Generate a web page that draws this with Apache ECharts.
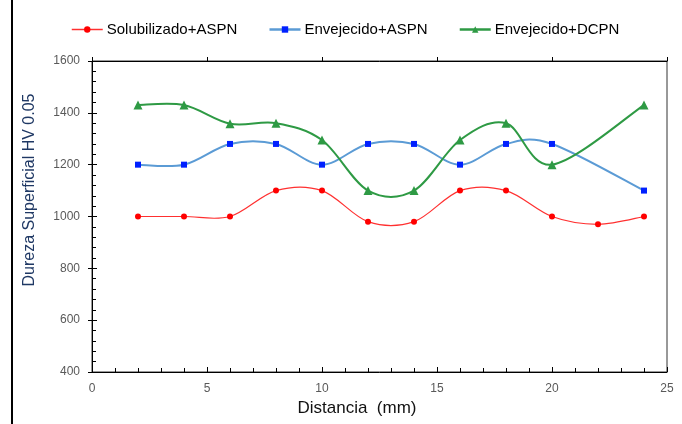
<!DOCTYPE html>
<html>
<head>
<meta charset="utf-8">
<script src="https://cdn.jsdelivr.net/npm/echarts@6/dist/echarts.min.js"></script>
<style>
  html, body { margin: 0; padding: 0; background: #fff; }
  #chart { width: 682px; height: 424px; }
</style>
</head>
<body>
<div id="chart"></div>
<script>
// Distance along the sample (mm) and surface hardness readings (HV 0.05)
const distancia = [2, 4, 6, 8, 10, 12, 14, 16, 18, 20, 22, 24];
const solubilizadoASPN = [1000, 1000, 1000, 1100, 1100, 980, 980, 1100, 1100, 1000, 970, 1000];
const envejecidoASPN_x = [2, 4, 6, 8, 10, 12, 14, 16, 18, 20, 24];
const envejecidoASPN = [1200, 1200, 1280, 1280, 1200, 1280, 1280, 1200, 1280, 1280, 1100];
const envejecidoDCPN_x = [2, 4, 6, 8, 10, 12, 14, 16, 18, 20, 24];
const envejecidoDCPN = [1430, 1430, 1358, 1360, 1295, 1100, 1100, 1295, 1360, 1200, 1430];

const seriesNames = ['Solubilizado+ASPN', 'Envejecido+ASPN', 'Envejecido+DCPN'];
const xTicks = { min: 0, max: 25, interval: 5 };
const yTicks = { min: 400, max: 1600, interval: 200 };

const font = 'Liberation Sans, Arial, sans-serif';
const labelGray = '#595959';

const colors = {
  sol: { line: '#FF3030', mark: '#FF0000', width: 1.2 },
  asp: { line: '#5B9BD5', mark: '#0020FF', width: 2 },
  dcp: { line: '#2E9A44', mark: '#2E9A44', width: 2 }
};

const pairs = (xs, ys) => xs.map((x, i) => [x, ys[i]]);

// Smoothed curve through the points (cardinal spline, one cubic segment per data interval),
// positioned through the grid's own coordinate system.
function smoothCurve(xs, ys, style) {
  const n = xs.length;
  return {
    type: 'custom',
    silent: true,
    z: 1,
    data: pairs(xs, ys),
    encode: { x: 0, y: 1 },
    renderItem: function (params, api) {
      const i = params.dataIndex;
      if (i >= n - 1) return null;
      const at = k => api.coord([xs[Math.max(0, Math.min(n - 1, k))], ys[Math.max(0, Math.min(n - 1, k))]]);
      const p0 = at(i - 1), p1 = at(i), p2 = at(i + 1), p3 = at(i + 2);
      return {
        type: 'bezierCurve',
        shape: {
          x1: p1[0], y1: p1[1],
          x2: p2[0], y2: p2[1],
          cpx1: p1[0] + (p2[0] - p0[0]) / 6, cpy1: p1[1] + (p2[1] - p0[1]) / 6,
          cpx2: p2[0] - (p3[0] - p1[0]) / 6, cpy2: p2[1] - (p3[1] - p1[1]) / 6
        },
        style: { stroke: style.line, lineWidth: style.width, fill: null }
      };
    }
  };
}

function markers(name, xs, ys, symbol, size, style) {
  return {
    name: name, type: 'line', z: 3,
    data: pairs(xs, ys),
    symbol: symbol, symbolSize: size,
    itemStyle: { color: style.mark },
    lineStyle: { width: 0, color: style.line }
  };
}

const chart = echarts.init(document.getElementById('chart'), null, { renderer: 'canvas' });

const baseX = {
  type: 'value', min: xTicks.min, max: xTicks.max, interval: xTicks.interval,
  splitLine: { show: false },
  axisLine: { show: true, onZero: false, lineStyle: { color: '#000', width: 1 } }
};
const baseY = {
  type: 'value', min: yTicks.min, max: yTicks.max, interval: yTicks.interval,
  splitLine: { show: false },
  axisLine: { show: true, onZero: false, lineStyle: { color: '#000', width: 1 } }
};

chart.setOption({
  backgroundColor: '#fff',
  animation: false,
  textStyle: { fontFamily: font },
  legend: {
    top: 17,
    left: 66,
    itemWidth: 31,
    itemHeight: 8,
    itemGap: 31,
    textStyle: { fontSize: 15, color: '#000', fontFamily: font, padding: [0, 0, 0, -1] },
    data: [
      { name: seriesNames[0], lineStyle: { width: 1.5, color: colors.sol.line } },
      { name: seriesNames[1], lineStyle: { width: 2.5, color: colors.asp.line } },
      { name: seriesNames[2], lineStyle: { width: 2.5, color: colors.dcp.line } }
    ]
  },
  grid: { left: 92, right: 15, top: 61, bottom: 52, show: true, borderColor: '#333', borderWidth: 1 },
  xAxis: [
    Object.assign({}, baseX, {
      axisTick: { show: true, inside: true, length: 5, lineStyle: { color: '#000' } },
      minorTick: { show: true, splitNumber: 5, length: 4, lineStyle: { color: '#000' } },
      axisLabel: { fontSize: 12, color: labelGray, margin: 11,
        formatter: v => String(v) }
    }),
    Object.assign({}, baseX, {
      axisTick: { show: true, inside: false, length: 4, lineStyle: { color: '#000' } },
      axisLabel: { show: false }
    })
  ],
  yAxis: [
    Object.assign({}, baseY, {
      axisTick: { show: true, inside: true, length: 5, lineStyle: { color: '#000' } },
      minorTick: { show: true, splitNumber: 5, length: 4, lineStyle: { color: '#000' } },
      axisLabel: { fontSize: 12, color: labelGray, margin: 12,
        formatter: v => String(v) }
    }),
    Object.assign({}, baseY, {
      position: 'left',
      axisTick: { show: true, inside: false, length: 4, lineStyle: { color: '#000' } },
      axisLabel: { show: false }
    })
  ],
  series: [
    smoothCurve(distancia, solubilizadoASPN, colors.sol),
    smoothCurve(envejecidoASPN_x, envejecidoASPN, colors.asp),
    smoothCurve(envejecidoDCPN_x, envejecidoDCPN, colors.dcp),
    markers(seriesNames[0], distancia, solubilizadoASPN, 'circle', 6, colors.sol),
    markers(seriesNames[1], envejecidoASPN_x, envejecidoASPN, 'rect', 6, colors.asp),
    markers(seriesNames[2], envejecidoDCPN_x, envejecidoDCPN, 'triangle', 9, colors.dcp)
  ],
  graphic: [
    { type: 'rect', left: 11, top: 0, shape: { width: 2, height: 424 }, style: { fill: '#000' }, silent: true },
    {
      type: 'text', x: 30, y: 190, rotation: Math.PI / 2, silent: true,
      style: { text: 'Dureza Superficial HV 0.05', font: '16px ' + font, fill: '#1F3864',
        textAlign: 'center', textVerticalAlign: 'middle' }
    },
    {
      type: 'text', x: 357, y: 408, silent: true,
      style: { text: 'Distancia  (mm)', font: '17px ' + font, fill: '#111',
        textAlign: 'center', textVerticalAlign: 'middle' }
    }
  ]
});
</script>
</body>
</html>
